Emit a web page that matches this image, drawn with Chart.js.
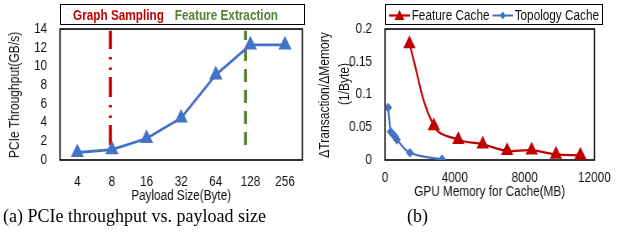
<!DOCTYPE html>
<html>
<head>
<meta charset="utf-8">
<script src="https://cdn.jsdelivr.net/npm/chart.js@4.4.1/dist/chart.umd.min.js"></script>
<style>
  body { margin: 0; width: 619px; height: 242px; background: #fff; position: relative; overflow: hidden; }
  canvas { position: absolute; top: 0; transform: scaleX(0.84); transform-origin: 0 0; }
  #throughput-chart { left: 0; }
  #cache-chart { left: 310px; }
  .legend-box {
    position: absolute; top: 4px; height: 21px; box-sizing: border-box;
    border: 1px solid #000; display: flex; align-items: center; white-space: nowrap; overflow: hidden;
    font: 14px 'Liberation Sans', Arial, sans-serif; color: #111;
  }
  .legend-inner { display: flex; align-items: center; transform: scaleX(0.84); transform-origin: left center; }
  #throughput-legend { left: 60px; width: 245px; padding-left: 12px; font-weight: bold; }
  #throughput-legend span { margin-right: 13px; }
  #cache-legend { left: 385px; width: 218px; padding-left: 3px; }
  #cache-legend .item { display: flex; align-items: center; margin-right: 3px; }
  #cache-legend svg { margin-right: 2px; }
  .axis-title {
    position: absolute; white-space: nowrap; line-height: 1;
    font: 14px 'Liberation Sans', Arial, sans-serif; color: #111;
    transform: translate(-50%, -50%) rotate(-90deg) scaleX(0.86);
  }
  .caption { position: absolute; top: 207px; font: 18px 'Liberation Serif', 'Times New Roman', serif; color: #000; line-height: 18px; }
</style>
</head>
<body>
<canvas id="throughput-chart" width="369" height="210"></canvas>
<canvas id="cache-chart" width="368" height="210"></canvas>
<div class="legend-box" id="throughput-legend"><div class="legend-inner"></div></div>
<div class="legend-box" id="cache-legend"><div class="legend-inner"></div></div>
<div class="axis-title" style="left:14px; top:95px">PCIe Throughput(GB/s)</div>
<div class="axis-title" style="left:324px; top:94.5px">ΔTransaction/ΔMemory</div>
<div class="axis-title" style="left:343.5px; top:84px">(1/Byte)</div>
<div class="caption" style="left:3px">(a) PCIe throughput vs. payload size</div>
<div class="caption" style="left:407px">(b)</div>
<script>
// Left chart data: PCIe throughput vs payload size
const payloadSizes = [4, 8, 16, 32, 64, 128, 256];
const throughput = [0.8, 1.1, 2.3, 4.5, 9.1, 12.3, 12.3];
const throughputTicks = [0, 2, 4, 6, 8, 10, 12, 14];
// Phase boundaries (payload bytes) and their vertical extent (GB/s)
const samplingBoundary = 7.75;
const extractionBoundary = 116;
const boundaryRange = [1.6, 13.8];

// Right chart data: transaction gain per memory
const featureMemory = [1400, 2800, 4200, 5600, 7000, 8400, 9800, 11200];
const featureRatio = [0.177, 0.052, 0.031, 0.024, 0.014, 0.015, 0.0085, 0.0072];
const topologyMemory = [180, 330, 460, 570, 680, 1430, 3270];
const topologyRatio = [0.080, 0.043, 0.039, 0.036, 0.031, 0.011, 0.001];
const memoryTicks = [0, 4000, 8000, 12000];
const ratioTicks = [0, 0.05, 0.1, 0.15, 0.2];

const blue = '#4472C4';
const red = '#C00000';
const green = '#548235';

// canvases are squeezed horizontally (narrow fonts), so x sizes are divided by this
const squeeze = 0.84;

Chart.defaults.font.family = "'Liberation Sans', Arial, sans-serif";
Chart.defaults.font.size = 14;
Chart.defaults.color = '#111';

// Black frame around the plot area
const plotBox = {
  id: 'plotBox',
  beforeDatasetsDraw(chart) {
    const { ctx, chartArea: a } = chart;
    ctx.save();
    ctx.strokeStyle = '#000';
    ctx.lineWidth = 1.6;
    ctx.strokeRect(a.left, a.top, a.right - a.left, a.bottom - a.top);
    ctx.restore();
  }
};

function setTicks(values) {
  return (scale) => { scale.ticks = values.map(v => ({ value: v })); };
}

function toPoints(xs, ys) {
  return xs.map((x, i) => ({ x: x, y: ys[i] }));
}

// *Throughput chart*
const throughputChart = new Chart(document.getElementById('throughput-chart'), {
  type: 'line',
  data: {
    datasets: [
      {
        label: 'PCIe Throughput',
        data: toPoints(payloadSizes.map(Math.log2), throughput),
        borderColor: blue,
        backgroundColor: blue,
        borderWidth: 2.8,
        pointStyle: 'triangle',
        pointRadius: 6.3,
        tension: 0
      },
      {
        label: 'Graph Sampling',
        data: boundaryRange.map(y => ({ x: Math.log2(samplingBoundary), y: y })),
        borderColor: red,
        borderWidth: 3.5,
        borderDash: [20, 7, 2.5, 8, 2.5, 8],
        pointRadius: 0
      },
      {
        label: 'Feature Extraction',
        data: boundaryRange.map(y => ({ x: Math.log2(extractionBoundary), y: y })),
        borderColor: green,
        borderWidth: 3.5,
        borderDash: [13, 8],
        pointRadius: 0
      }
    ]
  },
  options: {
    responsive: false,
    animation: false,
    layout: { padding: { top: 29, right: 6, left: 0, bottom: 0 } },
    plugins: { legend: { display: false }, tooltip: { enabled: false } },
    scales: {
      x: {
        type: 'linear',
        min: 1.5,
        max: 8.5,
        grid: { display: false, drawTicks: false },
        border: { display: false },
        afterBuildTicks: setTicks(payloadSizes.map(Math.log2)),
        afterFit: (s) => { s.height = 50; },
        ticks: { padding: 14, maxRotation: 0, autoSkip: false, callback: v => String(2 ** v) },
        title: { display: true, text: 'Payload Size(Byte)', padding: { top: 0, bottom: 5.6 }, font: { lineHeight: 1.2 } }
      },
      y: {
        min: 0,
        max: 14,
        grid: { display: false, drawTicks: false },
        border: { display: false },
        afterBuildTicks: setTicks(throughputTicks),
        afterFit: (s) => { s.width = 60 / squeeze; },
        ticks: { padding: 13 / squeeze, autoSkip: false, callback: v => String(v) }
      }
    }
  },
  plugins: [plotBox]
});

// *Cache chart*
const cacheChart = new Chart(document.getElementById('cache-chart'), {
  type: 'line',
  data: {
    datasets: [
      {
        label: 'Feature Cache',
        data: toPoints(featureMemory, featureRatio),
        borderColor: red,
        backgroundColor: red,
        borderWidth: 2.2,
        pointStyle: 'triangle',
        pointRadius: 6.3,
        tension: 0.4
      },
      {
        label: 'Topology Cache',
        data: toPoints(topologyMemory, topologyRatio),
        borderColor: blue,
        backgroundColor: blue,
        borderWidth: 2.2,
        pointStyle: 'rectRot',
        pointRadius: 3.2,
        tension: 0.4
      }
    ]
  },
  options: {
    responsive: false,
    animation: false,
    layout: { padding: { top: 29, right: 19.5, left: 0, bottom: 0 } },
    plugins: { legend: { display: false }, tooltip: { enabled: false } },
    scales: {
      x: {
        type: 'linear',
        min: 0,
        max: 12000,
        grid: { display: false, drawTicks: false },
        border: { display: false },
        afterBuildTicks: setTicks(memoryTicks),
        afterFit: (s) => { s.height = 50; },
        ticks: { padding: 10, maxRotation: 0, autoSkip: false, callback: v => String(v) },
        title: { display: true, text: 'GPU Memory for Cache(MB)', padding: { top: 0, bottom: 9.6 }, font: { lineHeight: 1.2 } }
      },
      y: {
        min: 0,
        max: 0.2,
        grid: { display: false, drawTicks: false },
        border: { display: false },
        afterBuildTicks: setTicks(ratioTicks),
        afterFit: (s) => { s.width = 75 / squeeze; },
        ticks: { padding: 13 / squeeze, autoSkip: false, callback: v => String(v) }
      }
    }
  },
  plugins: [plotBox]
});

// HTML legends built from the datasets
const throughputLegend = document.querySelector('#throughput-legend .legend-inner');
throughputChart.data.datasets.slice(1).forEach(ds => {
  const span = document.createElement('span');
  span.textContent = ds.label;
  span.style.color = ds.borderColor;
  throughputLegend.appendChild(span);
});

function legendIcon(ds) {
  const c = ds.borderColor;
  const marker = ds.pointStyle === 'triangle'
    ? `<polygon points="12.5,1 18.5,11 6.5,11" fill="${c}"/>`
    : `<polygon points="12.5,2.5 16,6.5 12.5,10.5 9,6.5" fill="${c}"/>`;
  return `<svg width="25" height="12" viewBox="0 0 25 12"><line x1="0" y1="6.5" x2="25" y2="6.5" stroke="${c}" stroke-width="2.2"/>${marker}</svg>`;
}

const cacheLegend = document.querySelector('#cache-legend .legend-inner');
cacheChart.data.datasets.forEach(ds => {
  const item = document.createElement('div');
  item.className = 'item';
  item.innerHTML = legendIcon(ds) + `<span>${ds.label}</span>`;
  cacheLegend.appendChild(item);
});
</script>
</body>
</html>
